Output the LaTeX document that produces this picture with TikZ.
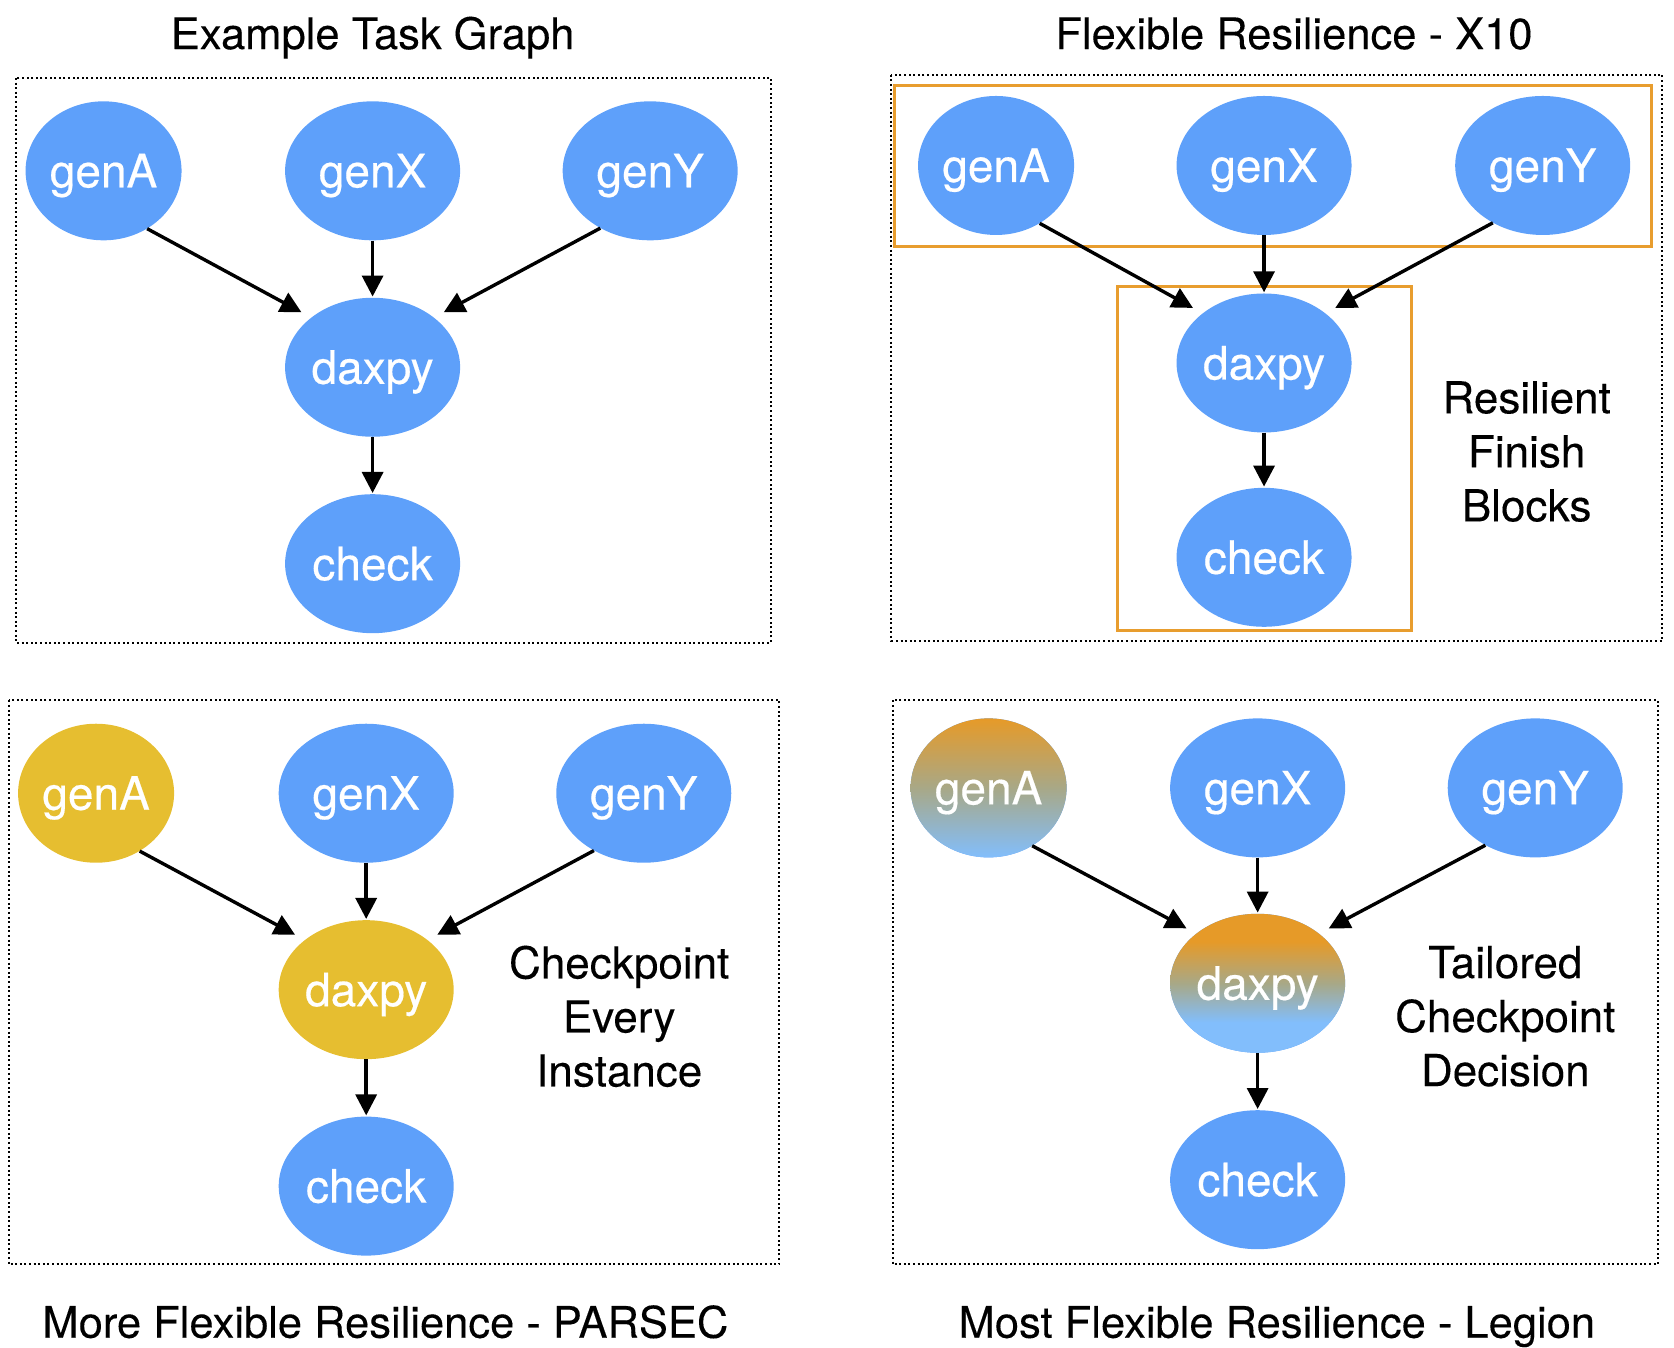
\documentclass[tikz,border=0pt]{standalone}
\usepackage{fontspec}
\setmainfont{TeX Gyre Heros}
\newfontfamily\nodefont[FakeBold=0.4]{TeX Gyre Heros}
\newfontfamily\labfont[FakeBold=0.15]{TeX Gyre Heros}
\usetikzlibrary{arrows.meta,shapes.geometric}
\definecolor{nblue}{RGB}{94,160,250}
\definecolor{ngold}{RGB}{230,190,48}
\definecolor{norange}{RGB}{232,157,46}
\definecolor{gorange}{RGB}{230,154,40}
\definecolor{gmid}{RGB}{168,168,135}
\definecolor{glblue}{RGB}{130,190,252}
\pgfdeclareverticalshading{dshade}{100bp}{color(0bp)=(glblue); color(36bp)=(glblue); color(50bp)=(gmid); color(65bp)=(gorange); color(100bp)=(gorange)}
\pgfdeclareverticalshading{ashade}{100bp}{color(0bp)=(glblue); color(25bp)=(glblue); color(50bp)=(gmid); color(75bp)=(gorange); color(100bp)=(gorange)}
\begin{document}
\begin{tikzpicture}[x=1.0676pt,y=-1.0676pt,
  tnode/.style={ellipse, fill=nblue, text=white, inner sep=0pt,
    minimum width=175pt, minimum height=139pt,
    font=\nodefont\fontsize{46}{54}\selectfont, text height=33pt, text depth=0pt},
  anode/.style={tnode, minimum width=156pt},
  gold/.style={fill=ngold},
  shA/.style={shading=ashade},
  shD/.style={shading=dshade},
  arr/.style={-{Triangle[length=21pt,width=21pt]}, line width=3.4pt},
  pbox/.style={line width=2pt, dash pattern=on 2pt off 2.6pt},
  obox/.style={draw=norange, line width=3pt},
  ttl/.style={font=\labfont\fontsize{43.5}{50}\selectfont, anchor=base, inner sep=0pt},
  side/.style={font=\labfont\fontsize{44}{54}\selectfont, align=center, inner sep=0pt}]
\useasboundingbox (0,0) rectangle (1568,1262.6);

% panel frames
\draw[pbox] (15,73) rectangle (722,602);
\draw[pbox] (835,70) rectangle (1557,600);
\draw[pbox] (8,656) rectangle (730,1184);
\draw[pbox] (836,656) rectangle (1553,1184);
\draw[obox] (838,80) rectangle (1547,231);
\draw[obox] (1047,268) rectangle (1322,591);

% titles
\node[ttl] (t1) at (349,46) {Example Task Graph};
\node[ttl] (t2) at (1212,46) {Flexible Resilience - X10};
\node[ttl] (t3) at (361,1253) {More Flexible Resilience - PARSEC};
\node[ttl] (t4) at (1196,1253) {Most Flexible Resilience - Legion};

% side texts
\node[side] (s2) at (1430,423) {Resilient\\Finish\\Blocks};
\node[side] (s3) at (580,952) {Checkpoint\\Every\\Instance};
\node[side] (s4) at (1410,952) {Tailored\\Checkpoint\\Decision};

% panel 1
\node[anode] (aA) at (97,160) {genA};
\node[tnode] (aX) at (349,160) {genX};
\node[tnode] (aY) at (609,160) {genY};
\node[tnode] (aD) at (349,344) {daxpy};
\node[tnode] (aC) at (349,528) {check};
% panel 2
\node[anode] (bA) at (933,155) {genA};
\node[tnode] (bX) at (1184,155) {genX};
\node[tnode] (bY) at (1445,155) {genY};
\node[tnode] (bD) at (1184,340) {daxpy};
\node[tnode] (bC) at (1184,522) {check};
% panel 3
\node[anode,gold] (cA) at (90,743) {genA};
\node[tnode] (cX) at (343,743) {genX};
\node[tnode] (cY) at (603,743) {genY};
\node[tnode,gold] (cD) at (343,927) {daxpy};
\node[tnode] (cC) at (343,1111) {check};
% panel 4
\node[anode,shA] (dA) at (926,738) {genA};
\node[tnode] (dX) at (1178,738) {genX};
\node[tnode] (dY) at (1438,738) {genY};
\node[tnode,shD] (dD) at (1178,921) {daxpy};
\node[tnode] (dC) at (1178,1105) {check};

\foreach \p in {a,b,c,d}{
  \draw[arr, shorten >=11pt] (\p A.-53) -- (\p D.141);
  \draw[arr, shorten >=1pt] (\p X) -- (\p D);
  \draw[arr, shorten >=11pt] (\p Y.-131) -- (\p D.39);
  \draw[arr, shorten >=1pt] (\p D) -- (\p C);
}
\end{tikzpicture}
\end{document}
